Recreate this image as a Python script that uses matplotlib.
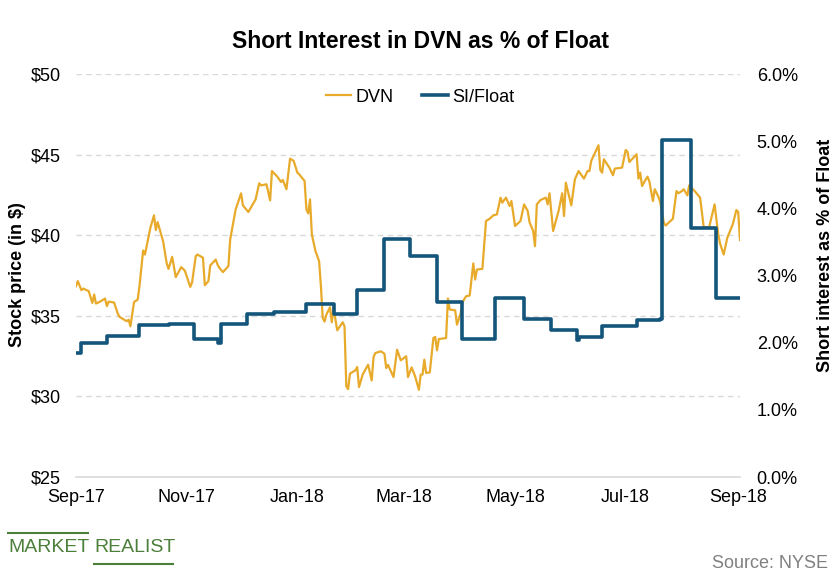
import datetime
import matplotlib
matplotlib.use("Agg")
import matplotlib.pyplot as plt
import matplotlib.dates as mdates
from matplotlib.lines import Line2D
from matplotlib.ticker import FuncFormatter

plt.rcParams['font.family'] = ['Liberation Sans', 'DejaVu Sans']

start = datetime.date(2017, 9, 1)

# DVN closing price, days after start
dvn_day = [0, 1, 3, 4, 7, 9, 10, 11, 13, 16, 17, 18, 21, 23, 24, 28, 29, 30, 32, 34,
           35, 37, 38, 41, 43, 44, 45, 48, 50, 51, 53, 55, 58, 60, 63, 64, 66, 67, 70, 71,
           73, 74, 77, 78, 79, 81, 84, 85, 87, 88, 91, 92, 95, 99, 101, 102, 105, 107, 108, 111,
           113, 114, 116, 118, 120, 122, 123, 126, 127, 128, 129, 130, 132, 134, 135, 136, 137, 138, 140, 141,
           142, 143, 144, 147, 148, 149, 150, 151, 154, 155, 156, 158, 161, 163, 164, 165, 168, 170, 171, 172,
           175, 177, 179, 182, 183, 185, 187, 189, 190, 191, 192, 193, 195, 197, 198, 199, 200, 204, 205, 206,
           209, 210, 212, 213, 215, 217, 219, 220, 221, 224, 226, 228, 230, 232, 234, 235, 237, 239, 240, 242,
           245, 247, 249, 250, 252, 253, 254, 256, 259, 260, 261, 263, 266, 268, 269, 270, 273, 275, 277, 280,
           282, 283, 284, 288, 289, 290, 291, 294, 296, 297, 301, 303, 304, 305, 309, 310, 311, 312, 314, 315,
           316, 318, 319, 321, 322, 324, 325, 329, 331, 332, 334, 335, 337, 338, 341, 344, 346, 349, 352, 354,
           355, 357, 359, 362, 364, 365, 366]
dvn_price = [36.84, 37.15, 36.59, 36.69, 36.53, 35.80, 36.32, 35.76, 35.86, 36.07, 35.60, 35.88, 35.82, 35.14, 34.93, 34.66, 34.76, 34.35, 35.86, 36.00,
             36.84, 39.05, 38.80, 40.46, 41.23, 40.32, 40.81, 39.63, 38.25, 37.91, 38.66, 37.40, 38.02, 37.80, 36.79, 37.08, 38.70, 38.80, 38.60, 36.90,
             37.15, 38.12, 38.49, 38.18, 37.98, 37.71, 38.08, 39.74, 40.98, 41.60, 42.60, 41.85, 41.44, 42.22, 43.22, 43.09, 43.16, 42.16, 43.98, 43.63,
             43.30, 43.43, 42.85, 44.75, 44.61, 43.88, 43.78, 43.36, 41.60, 41.35, 42.22, 40.05, 39.01, 38.39, 36.84, 34.87, 34.64, 35.07, 35.53, 34.60,
             35.59, 34.76, 34.10, 34.60, 34.35, 30.62, 30.45, 31.41, 31.62, 31.82, 30.58, 31.35, 31.97, 30.99, 32.44, 32.69, 32.80, 32.65, 31.76, 31.95,
             31.20, 32.90, 32.24, 32.49, 31.20, 31.80, 31.22, 30.41, 31.35, 31.35, 32.28, 31.45, 31.49, 33.62, 33.69, 32.86, 33.56, 33.62, 36.07, 35.39,
             35.34, 34.45, 35.14, 35.84, 36.21, 36.26, 38.25, 37.25, 37.87, 37.91, 40.88, 41.02, 41.23, 41.29, 42.33, 42.02, 42.33, 41.81, 42.12, 40.57,
             40.88, 41.91, 41.50, 40.80, 40.26, 39.32, 41.91, 42.18, 42.33, 41.91, 42.60, 40.26, 41.50, 42.60, 41.19, 43.26, 41.85, 43.47, 43.98, 43.51,
             43.98, 43.98, 44.61, 45.58, 44.05, 43.88, 44.71, 44.19, 43.72, 44.13, 44.19, 45.29, 45.17, 44.54, 45.02, 43.51, 43.88, 43.05, 43.45, 43.63,
             43.36, 42.12, 42.85, 42.39, 42.06, 40.77, 40.60, 41.02, 42.74, 42.60, 42.74, 42.85, 42.47, 43.09, 42.74, 42.33, 40.50, 40.50, 41.91, 40.05,
             39.49, 38.80, 39.84, 40.67, 41.56, 41.44, 39.70]

# short interest as % of float (step series), days after start
si_day = [0, 3, 17, 35, 51, 65, 78, 80, 94, 109, 127, 142, 155, 170, 184, 199, 213, 231,
          247, 262, 276, 277, 290, 309, 322, 323, 339, 353, 366]
si_pct = [1.84, 2.00, 2.10, 2.26, 2.28, 2.06, 2.00, 2.28, 2.43, 2.46, 2.57, 2.43, 2.79, 3.55, 3.29, 2.61, 2.06, 2.67,
          2.35, 2.19, 2.04, 2.08, 2.25, 2.34, 2.35, 5.02, 3.70, 2.67, 2.67]

tick_dates = ['2017-09-01', '2017-11-01', '2018-01-01', '2018-03-01', '2018-05-01', '2018-07-01', '2018-09-01']

dvn_x = [start + datetime.timedelta(days=d) for d in dvn_day]
si_x = [start + datetime.timedelta(days=d) for d in si_day]

yellow = '#E8AA2A'
blue = '#14557C'
grid_c = '#D9D9D9'

fig = plt.figure(figsize=(8.4, 5.8), dpi=100)
ax = fig.add_axes([76 / 840, 1 - 477 / 580, 664 / 840, 403 / 580])
ax2 = ax.twinx()

l1, = ax.plot(dvn_x, dvn_price, color=yellow, lw=1.6, label='DVN')
l2, = ax2.plot(si_x, si_pct, color=blue, lw=2.6, drawstyle='steps-post', label='SI/Float')

ax.set_ylim(25, 50)
ax.set_yticks(range(25, 51, 5))
ax.yaxis.set_major_formatter(FuncFormatter(lambda v, p: '${:.0f}'.format(v)))
ax2.set_ylim(0, 6)
ax2.set_yticks(range(0, 7))
ax2.yaxis.set_major_formatter(FuncFormatter(lambda v, p: '{:.1f}%'.format(v)))

ax.set_xlim(start, start + datetime.timedelta(days=366))
ax.set_xticks([datetime.date.fromisoformat(t) for t in tick_dates])
ax.xaxis.set_major_formatter(mdates.DateFormatter('%b-%y'))

ax.yaxis.grid(True, color=grid_c, linestyle=(0, (4, 3)), lw=1)
ax.set_axisbelow(True)
for a in (ax, ax2):
    for s in a.spines.values():
        s.set_visible(False)
ax.spines['bottom'].set_visible(True)
ax.spines['bottom'].set_color(grid_c)
ax.spines['bottom'].set_linewidth(1.2)

ax.tick_params(axis='y', length=0, labelsize=13, pad=11)
ax.tick_params(axis='x', length=0, labelsize=13, pad=9)
ax2.tick_params(axis='y', length=0, labelsize=13, pad=12)

fig.text(18 / 840, 1 - 275 / 580, 'Stock price (in $)', rotation=90, ha='center', va='center',
         fontsize=13, fontweight='bold')
fig.text(825 / 840, 1 - 255 / 580, 'Short interest as % of Float', rotation=90, ha='center', va='center',
         fontsize=13, fontweight='bold')

fig.text(420 / 840, 1 - 42 / 580, 'Short Interest in DVN as % of Float', ha='center', va='center',
         fontsize=16.5, fontweight='bold')

fig.legend(handles=[l1, l2], loc='center', bbox_to_anchor=(420 / 840, 1 - 97 / 580), ncol=2,
           frameon=False, fontsize=13, handlelength=1.4, handletextpad=0.25, columnspacing=1.6)

# logo and source
green = '#4B7F3A'
fig.text(8 / 840, 1 - 548 / 580, 'MARKET', color=green, fontsize=14, ha='left', va='center')
fig.text(94 / 840, 1 - 548 / 580, 'REALIST', color=green, fontsize=14, ha='left', va='center')
fig.add_artist(Line2D([8 / 840, 88 / 840], [1 - 533 / 580, 1 - 533 / 580], color=green, lw=1.5))
fig.add_artist(Line2D([94 / 840, 173 / 840], [1 - 564 / 580, 1 - 564 / 580], color=green, lw=1.5))
fig.text(828 / 840, 1 - 563 / 580, 'Source: NYSE', color='#808080', fontsize=13, ha='right', va='center')

fig.savefig('out.png', dpi=100)
